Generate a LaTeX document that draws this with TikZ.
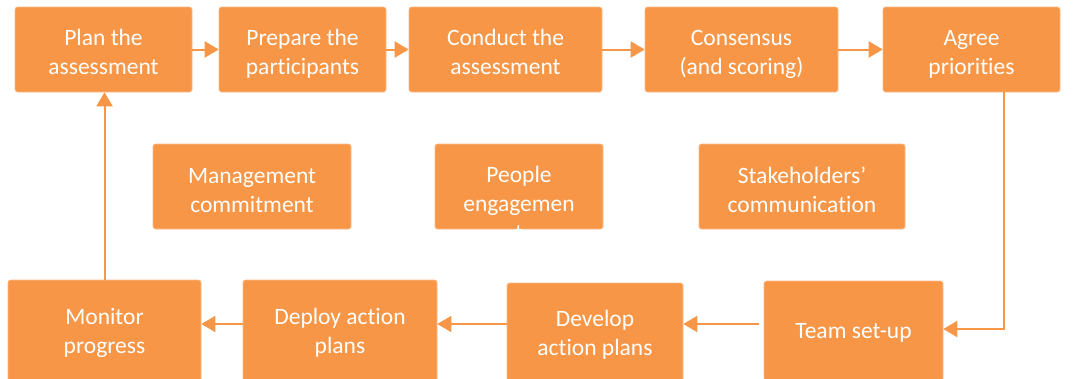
\documentclass[tikz,border=0pt]{standalone}
\usepackage{fontspec}
\setmainfont{Carlito}[Ligatures=NoCommon]
\usetikzlibrary{arrows.meta,calc}
\definecolor{boxor}{HTML}{F79646}
\definecolor{edgeor}{HTML}{FAB98A}
\tikzset{
  stepbox/.style={fill=boxor, draw=edgeor, line width=0.6pt, rounded corners=2.5pt,
    inner sep=0pt},
  steptext/.style={inner sep=0pt, text=white, align=center,
    font=\fontsize{23.5}{29}\selectfont,
    execute at begin node=\strut, execute at end node=\strut},
  flow/.style={draw=boxor, line width=2pt,
    -{Triangle[length=14pt,width=16pt]}},
}
\begin{document}
\begin{tikzpicture}[x=1pt,y=-1pt]
\useasboundingbox (0,0) rectangle (1073,378);
\clip (0,0) rectangle (1073,378);
% top row
\node[stepbox, minimum width=177pt, minimum height=85pt] (plan) at (103.5,49.5) {};
\node[stepbox, minimum width=167pt, minimum height=85pt] (prep) at (302.5,49.5) {};
\node[stepbox, minimum width=193pt, minimum height=85pt] (cond) at (505.5,49.5) {};
\node[stepbox, minimum width=193pt, minimum height=85pt] (cons) at (741.5,49.5) {};
\node[stepbox, minimum width=177pt, minimum height=85pt] (agree) at (971.5,49.5) {};
\node[steptext] (plantext) at ([yshift=-7pt]plan.center) {Plan the\\assessment};
\node[steptext] (preptext) at ([yshift=-7pt]prep.center) {Prepare the\\participants};
\node[steptext] (condtext) at ([yshift=-7pt]cond.center) {Conduct the\\assessment};
\node[steptext] (constext) at ([yshift=-7pt]cons.center) {Consensus\\(and scoring)};
\node[steptext] (agreetext) at ([yshift=-7pt]agree.center) {Agree\\priorities};
% middle row
\node[stepbox, minimum width=198pt, minimum height=85pt] (mgmt) at (252,186.5) {};
\node[stepbox, minimum width=168pt, minimum height=85pt] (people) at (519,186.5) {};
\node[stepbox, minimum width=206pt, minimum height=85pt] (stake) at (802,186.5) {};
\node[steptext] (mgmttext) at ([yshift=-8pt]mgmt.center) {Management\\commitment};
\begin{scope}
  \clip (people.north west) rectangle ([yshift=-3pt]people.south east);
  \node[steptext] (peopletext) at ([yshift=-21.5pt]people.center) {People\\engagemen\\t};
\end{scope}
\node[steptext] (staketext) at ([yshift=-8pt]stake.center) {Stakeholders’\\communication};
% bottom row
\node[stepbox, minimum width=193pt, minimum height=102pt] (mon) at (104.5,331) {};
\node[stepbox, minimum width=194pt, minimum height=102pt] (dep) at (340,331) {};
\node[stepbox, minimum width=176pt, minimum height=100pt] (dev) at (595,333) {};
\node[stepbox, minimum width=179pt, minimum height=100pt] (team) at (853.5,331) {};
\node[steptext] (montext) at ([yshift=-4.5pt]mon.center) {Monitor\\progress};
\node[steptext] (deptext) at ([yshift=-4.5pt]dep.center) {Deploy action\\plans};
\node[steptext] (devtext) at ([yshift=-4.5pt]dev.center) {Develop\\action plans};
\node[steptext] (teamtext) at ([yshift=-2pt]team.center) {Team set-up};
% connectors
\draw[flow] (plan.east) -- (prep.west);
\draw[flow] (prep.east) -- (cond.west);
\draw[flow] (cond.east) -- (cons.west);
\draw[flow] (cons.east) -- (agree.west);
\draw[flow] ([xshift=32.5pt]agree.south) |- ([yshift=2pt]team.east);
\draw[flow] ([xshift=-5pt,yshift=7pt]team.west) -- ([yshift=7pt]team.west -| dev.east);
\draw[flow] ([yshift=9pt]dev.west) -- ([yshift=9pt]dev.west -| dep.east);
\draw[flow] ([yshift=7pt]dep.west) -- ([yshift=7pt]dep.west -| mon.east);
\draw[flow] (mon.north) -- (mon.north |- plan.south);
\end{tikzpicture}
\end{document}
